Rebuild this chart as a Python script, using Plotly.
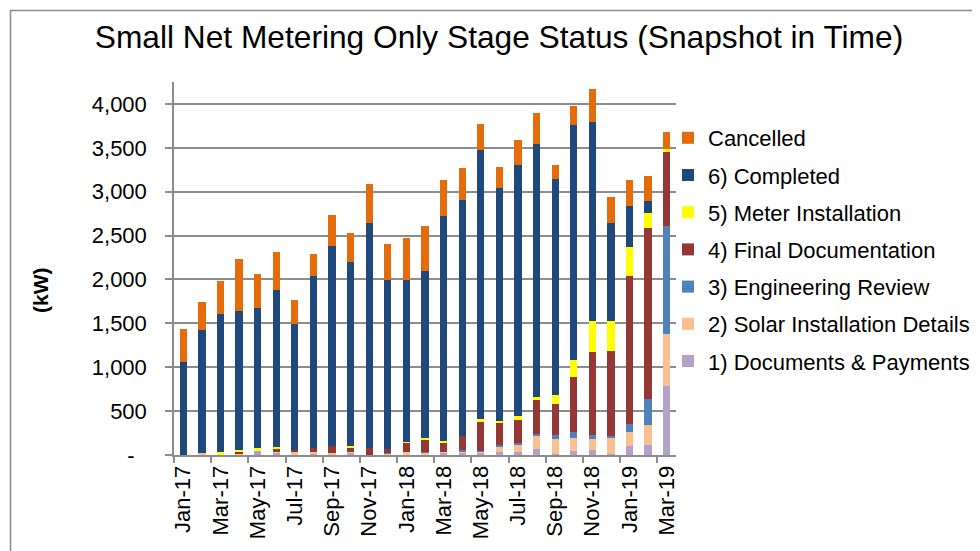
import plotly.graph_objects as go

months = ["Jan-17", "Feb-17", "Mar-17", "Apr-17", "May-17", "Jun-17", "Jul-17", "Aug-17", "Sep-17",
          "Oct-17", "Nov-17", "Dec-17", "Jan-18", "Feb-18", "Mar-18", "Apr-18", "May-18", "Jun-18",
          "Jul-18", "Aug-18", "Sep-18", "Oct-18", "Nov-18", "Dec-18", "Jan-19", "Feb-19", "Mar-19"]

documents_payments = [0, 0, 0, 5, 40, 23, 5, 17, 5, 25, 0, 8, 5, 5, 30, 25, 23, 35, 30, 65, 15, 42, 61, 8, 107, 114, 781]
solar_installation = [0, 20, 0, 10, 0, 10, 25, 17, 20, 12, 0, 5, 30, 27, 5, 15, 15, 55, 90, 152, 168, 156, 118, 190, 156, 229, 598]
engineering_review = [0, 0, 0, 0, 0, 0, 0, 0, 0, 0, 0, 10, 0, 5, 0, 19, 11, 25, 15, 25, 46, 69, 50, 15, 91, 293, 1227]
final_documentation = [0, 0, 0, 30, 0, 30, 30, 42, 76, 50, 85, 49, 103, 144, 106, 152, 330, 260, 265, 381, 350, 625, 941, 968, 1680, 1947, 850]
meter_installation = [0, 0, 35, 12, 42, 27, 0, 0, 0, 12, 0, 0, 15, 15, 23, 0, 27, 15, 40, 38, 103, 190, 362, 343, 335, 171, 30]
completed = [1063, 1409, 1569, 1585, 1598, 1788, 1434, 1962, 2280, 2099, 2559, 1921, 1840, 1903, 2560, 2692, 3065, 2654,
             2859, 2886, 2461, 2682, 2267, 1120, 469, 138, 0]
cancelled = [373, 312, 377, 587, 385, 438, 274, 256, 358, 332, 442, 415, 480, 515, 412, 370, 305, 236, 286, 347, 160,
             217, 373, 301, 298, 282, 191]

series = [
    ("1) Documents & Payments", documents_payments, "#B3A2C7"),
    ("2) Solar Installation Details", solar_installation, "#FAC090"),
    ("3) Engineering Review", engineering_review, "#4F81BD"),
    ("4) Final Documentation", final_documentation, "#953735"),
    ("5) Meter Installation", meter_installation, "#FFFF00"),
    ("6) Completed", completed, "#1F497D"),
    ("Cancelled", cancelled, "#E46C0A"),
]

y_ticks = [0, 500, 1000, 1500, 2000, 2500, 3000, 3500, 4000]
y_ticktext = ["-\u00a0\u00a0", "500", "1,000", "1,500", "2,000", "2,500", "3,000", "3,500", "4,000"]

FONT = "Liberation Sans, Arial, sans-serif"
GRID = "#8C8C8C"

fig = go.Figure()
n = len(series)
for i, (name, vals, color) in enumerate(series):
    fig.add_trace(go.Bar(
        x=months, y=vals, name=name, legendgroup=name, legendrank=n - i,
        marker=dict(color=color, line=dict(width=0)),
    ))

# the page body adds an 8px offset; figure coordinates = screen - 8
OFF = 8
W, H = 980, 551
L, T = 174 - OFF, 82 - OFF
R = W - (676 - OFF)
B = H - (455 - OFF)
pw = W - L - R
ph = H - T - B

def px_x(x):
    return (x - OFF - L) / pw

def px_y(y):
    return (H - B - (y - OFF)) / ph

fig.update_layout(
    width=W, height=H,
    margin=dict(l=L, r=R, t=T, b=B, pad=0, autoexpand=False),
    paper_bgcolor="white", plot_bgcolor="white",
    barmode="stack", bargap=0.61,
    font=dict(family=FONT, size=22, color="black"),
    title=dict(text="Small Net Metering Only Stage Status (Snapshot in Time)",
               x=(499 - OFF) / W, xanchor="center", y=1 - 29 / H, yanchor="middle",
               xref="container", yref="container",
               font=dict(family=FONT, size=31.7, color="black")),
    showlegend=True,
    legend=dict(traceorder="grouped", tracegroupgap=5.6,
                x=(668 - OFF) / W, xanchor="left", y=1 - 109 / H, yanchor="top",
                xref="container", yref="container",
                font=dict(family=FONT, size=22, color="black"),
                bgcolor="rgba(0,0,0,0)", itemwidth=30),
    xaxis=dict(type="category", tickmode="linear", tick0=0, dtick=2,
               tickangle=-90, tickson="boundaries", ticks="outside", ticklen=6,
               tickcolor=GRID, tickwidth=1.5,
               showline=True, linecolor=GRID, linewidth=2, showgrid=False,
               tickfont=dict(family=FONT, size=22, color="black")),
    yaxis=dict(range=[0, 4250], tickmode="array", tickvals=y_ticks, ticktext=y_ticktext,
               ticks="outside", ticklen=7, tickcolor=GRID, tickwidth=1.5,
               showline=True, linecolor=GRID, linewidth=1.5,
               showgrid=True, gridcolor=GRID, gridwidth=1.5, zeroline=False,
               ticklabelstandoff=14,
               tickfont=dict(family=FONT, size=22, color="black")),
    annotations=[dict(text="<b>(kW)</b>", x=px_x(40), y=px_y(290), xref="paper", yref="paper",
                      showarrow=False, textangle=-90, xanchor="center", yanchor="middle",
                      font=dict(family=FONT, size=21, color="black"))],
    shapes=[dict(type="rect", xref="paper", yref="paper",
                 x0=px_x(10.5), x1=px_x(1000), y0=px_y(570), y1=px_y(10.5),
                 line=dict(color="#8C8C8C", width=1.5), fillcolor="rgba(0,0,0,0)", layer="below")],
)

fig.write_html("out.html")
